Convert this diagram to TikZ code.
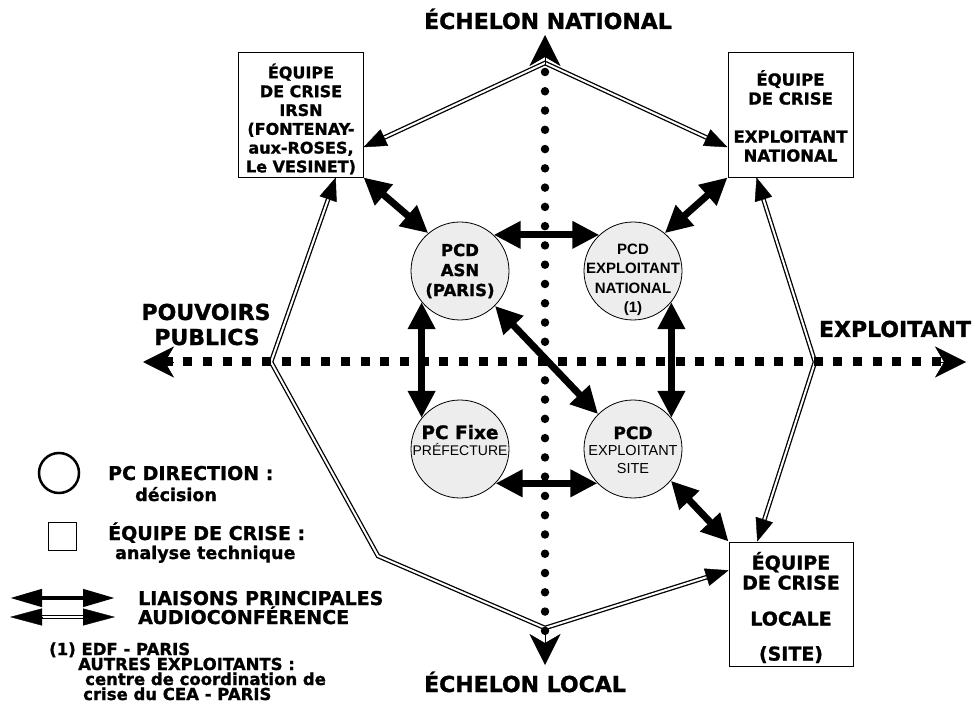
\documentclass[tikz,border=0pt]{standalone}
\usepackage{fontspec}
\setmainfont{DejaVu Sans}[BoldFeatures={FakeBold=1.2}]
\newfontfamily\arialf{Liberation Sans}
\usetikzlibrary{arrows.meta,calc}
\definecolor{circfill}{RGB}{237,237,237}
\newcommand\myfs[2]{\fontsize{#1}{#2}\selectfont}
\begin{document}
\begin{tikzpicture}[x=1pt,y=-1pt,
  frame/.style={draw=black, line width=0.9pt, minimum width=125pt, minimum height=125pt, inner sep=0pt},
  boxtext/.style={align=center, inner sep=0pt, font=\bfseries\myfs{16}{18.8}},
  pc/.style={circle, draw=black, line width=0.8pt, fill=circfill, minimum size=98pt, inner sep=0pt},
  liaison/.style={line width=7pt, {Triangle[length=27pt,width=26pt]}-{Triangle[length=27pt,width=26pt]}},
  audioline/.style={draw=black, double=white, line width=1.3pt, double distance=2pt, shorten <=14pt, shorten >=14pt},
  audiotip/.style={line width=0.4pt, -{Triangle[length=23pt,width=18pt]}},
  lgtip/.style={line width=0.4pt, -{Triangle[length=32pt,width=17pt]}},
  axistip/.style={line width=0.5pt, -{Stealth[length=31pt,width=31pt,inset=9pt]}},
  vdots/.style={line width=8.5pt, line cap=round, dash pattern=on 0pt off 19.27pt},
  hdash/.style={line width=9pt, dash pattern=on 9pt off 10.7pt},
  big/.style={inner sep=0pt, anchor=base, font=\bfseries\myfs{22}{25}},
  leg/.style={inner sep=0pt, anchor=base west, font=\bfseries\myfs{19}{22}},
  legsub/.style={inner sep=0pt, anchor=base west, font=\bfseries\myfs{17.5}{20}},
  foot/.style={inner sep=0pt, anchor=base west, font=\bfseries\myfs{16.5}{15}},
  ctext/.style={inner sep=0pt, anchor=base},
]
\useasboundingbox (0,0) rectangle (975,727);

% ---- boxes (équipes de crise)
\node[frame] (irsn) at (300.5,114.5) {};
\node[frame] (enbox) at (790.5,114.5) {};
\node[frame, minimum width=124pt, minimum height=124pt] (locbox) at (791,604) {};

\node[boxtext] (irsnt) at (301,119) {ÉQUIPE\\DE CRISE\\IRSN\\(FONTENAY-\\aux-ROSES,\\Le VESINET)};
\node[boxtext, font=\bfseries\myfs{16.5}{19}] (enboxt) at (790.5,116) {ÉQUIPE\\DE CRISE\\[19pt]EXPLOITANT\\NATIONAL};
\node[boxtext, font=\bfseries\myfs{19}{20}] (locboxt) at (791,607.5) {ÉQUIPE\\DE CRISE\\[16pt]LOCALE\\[15pt](SITE)};

% ---- attachment points for audio links
\coordinate (irsnE) at ($(irsn.south east)!0.24!(irsn.north east)$);
\coordinate (irsnS) at ($(irsn.south west)!0.78!(irsn.south east)$);
\coordinate (enW) at ($(enbox.south west)!0.24!(enbox.north west)$);
\coordinate (enS) at ($(enbox.south west)!0.23!(enbox.south east)$);
\coordinate (locN) at ($(locbox.north west)!0.23!(locbox.north east)$);
\coordinate (locW) at ($(locbox.north west)!0.23!(locbox.south west)$);

% ---- octagon vertices
\coordinate (T) at (545,63);
\coordinate (L) at (271,362);
\coordinate (LL) at (378,556);
\coordinate (B) at (545,628);
\coordinate (R) at (815,362);

% ---- audioconférence links
\draw[audioline] (irsnE) -- (T) -- (enW);
\draw[audiotip] ($(irsnE)!23pt!(T)$) -- (irsnE);
\draw[audiotip] ($(enW)!23pt!(T)$) -- (enW);
\draw[audioline] (irsnS) -- (L) -- (LL) -- (B) -- (locW);
\draw[audiotip] ($(irsnS)!23pt!(L)$) -- (irsnS);
\draw[audiotip] ($(locW)!23pt!(B)$) -- (locW);
\draw[audioline] (enS) -- (R) -- (locN);
\draw[audiotip] ($(enS)!23pt!(R)$) -- (enS);
\draw[audiotip] ($(locN)!23pt!(R)$) -- (locN);

% ---- axes
\coordinate (vtop) at (545,35);
\coordinate (vbot) at (545,665);
\coordinate (vs) at (545,72);
\coordinate (ve) at (545,636);
\draw[vdots] (vs) -- (ve);
\draw[axistip] ($(vtop)!31pt!(vbot)$) -- (vtop);
\draw[axistip] ($(vbot)!31pt!(vtop)$) -- (vbot);
\coordinate (hleft) at (143,362);
\coordinate (hright) at (966,362);
\coordinate (hs) at (163.5,362);
\coordinate (he) at (948,362);
\draw[hdash] (hs) -- (he);
\draw[axistip] ($(hleft)!31pt!(hright)$) -- (hleft);
\draw[axistip] ($(hright)!31pt!(hleft)$) -- (hright);

% ---- PC circles
\node[pc] (asn) at (460,271) {};
\node[pc] (pcen) at (633,271) {};
\node[pc] (pcfixe) at (460,449) {};
\node[pc] (pcsite) at (633,449) {};

\node[align=center, inner sep=0pt, font=\bfseries\myfs{16.5}{20}] (asnt) at (460,271) {PCD\\ASN\\(PARIS)};
\node[align=center, inner sep=0pt, font=\arialf\bfseries\myfs{15}{19.5}] (pcent) at (633,280) {PCD\\EXPLOITANT\\NATIONAL\\(1)};
\node[ctext, font=\bfseries\myfs{18.5}{20}] (pcfixet1) at (460,439) {PC Fixe};
\node[ctext, font=\arialf\myfs{14}{16}] (pcfixet2) at (460,455.5) {PRÉFECTURE};
\node[ctext, font=\bfseries\myfs{17}{20}] (pcsitet1) at (633,439) {PCD};
\node[ctext, font=\arialf\myfs{14.5}{16}] (pcsitet2) at (633,455.5) {EXPLOITANT};
\node[ctext, font=\arialf\myfs{14.5}{16}] (pcsitet3) at (633,473.5) {SITE};

% ---- liaisons principales
\draw[liaison] (asn.47) -- (pcen.133);
\draw[liaison] (asn.219) -- (pcfixe.141);
\draw[liaison] (pcen.321) -- (pcsite.39);
\draw[liaison] (asn.315) -- (pcsite.135);
\draw[liaison] (pcfixe.316) -- (pcsite.224);
\draw[liaison] (irsn.south east) -- (asn.130);
\draw[liaison] (enbox.south west) -- (pcen.50);
\draw[liaison] (pcsite.320) -- (locbox.north west);

% ---- axis labels
\node[big] (natl) at (548,29) {ÉCHELON NATIONAL};
\node[big] (locl) at (525,692) {ÉCHELON LOCAL};
\node[big] (pouv) at (206,320) {POUVOIRS};
\node[big] (publ) at (207,345) {PUBLICS};
\node[big] (expl) at (895,337) {EXPLOITANT};

% ---- legend
\node[circle, draw=black, line width=2.5pt, minimum size=40pt, inner sep=0pt] (lgcirc) at (59,473) {};
\node[leg] (lgc1) at (108,480) {PC DIRECTION :};
\node[legsub] (lgc2) at (135,501) {décision};
\node[draw=black, line width=0.8pt, minimum size=28pt, inner sep=0pt] (lgbox) at (62.5,536) {};
\node[leg] (lgb1) at (108,540) {ÉQUIPE DE CRISE :};
\node[legsub] (lgb2) at (115,559) {analyse technique};

\coordinate (lgL1) at (10,598);
\coordinate (lgL2) at (115,598);
\draw[line width=4.5pt, {Triangle[length=32pt,width=17pt]}-{Triangle[length=32pt,width=17pt]}] (lgL1) -- (lgL2);
\node[leg] (lgl) at (138,605) {LIAISONS PRINCIPALES};

\coordinate (lgA1) at (10,617);
\coordinate (lgA2) at (115,617);
\draw[audioline, shorten <=20pt, shorten >=20pt] (lgA1) -- (lgA2);
\draw[lgtip] ($(lgA1)!32pt!(lgA2)$) -- (lgA1);
\draw[lgtip] ($(lgA2)!32pt!(lgA1)$) -- (lgA2);
\node[leg] (lga) at (138,624) {AUDIOCONFÉRENCE};

\node[foot] (f1) at (49,655) {(1) EDF - PARIS};
\node[foot] (f2) at (78,670) {AUTRES EXPLOITANTS :};
\node[foot] (f3) at (85,685) {centre de coordination de};
\node[foot] (f4) at (83,700) {crise du CEA - PARIS};
\end{tikzpicture}
\end{document}
